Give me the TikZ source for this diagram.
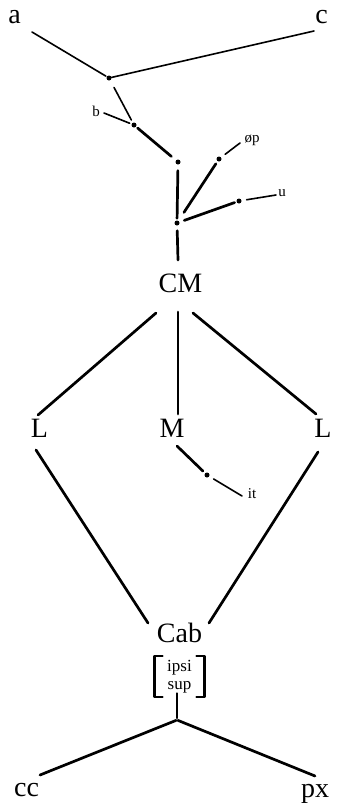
\documentclass[tikz,border=0pt]{standalone}
\usepackage{fontspec}
\setmainfont{Liberation Serif}
\begin{document}
\begin{tikzpicture}[x=1pt,y=-1pt, line join=round, line cap=round,
    big/.style={inner sep=0pt,font=\fontsize{28}{30}\selectfont},
    small/.style={inner sep=0pt,font=\fontsize{15}{17}\selectfont},
    dot/.style={circle,fill=black,inner sep=0pt,minimum size=5pt},
    twig/.style={line width=1.6pt},
    limb/.style={line width=2.7pt}]
    \useasboundingbox (0,0) rectangle (337,811);
    % labels
    \node[big] (a) at (14.5,17) {a};
    \node[big] (c) at (321.5,17) {c};
    \node[small] (b) at (96,111.5) {b};
    \node[small] (op) at (252,140) {øp};
    \node[small] (u) at (282,193) {u};
    \node[big] (cm) at (180.5,283.5) {CM};
    \node[big] (lL) at (39.5,428.5) {L};
    \node[big] (mM) at (172,428.5) {M};
    \node[big] (lR) at (323,428.5) {L};
    \node[small] (it) at (252,494) {it};
    \node[big] (cab) at (179.5,633) {Cab};
    \node[inner sep=0pt,align=center,font=\fontsize{17}{18}\selectfont] (feat) at (179.5,676.5) {ipsi\\sup};
    \node[big] (cc) at (26.5,790) {cc};
    \node[big] (px) at (315,794) {px};
    % dots
    \node[dot] (n1) at (109,78) {};
    \node[dot] (n2) at (134,125) {};
    \node[dot] (n3) at (178,162) {};
    \node[dot] (n4) at (177,223) {};
    \node[dot] (n5) at (219,159) {};
    \node[dot] (n6) at (239,201) {};
    \node[dot] (n7) at (207,475) {};
    \coordinate (j) at (177,720);
    % brackets
    \draw[line width=2.2pt] ([shift={(-17,-20.5)}]feat.center) -- ++(-8,0) -- ++(0,41) -- ++(8,0);
    \draw[line width=2.2pt] ([shift={(17,-20.5)}]feat.center) -- ++(8,0) -- ++(0,41) -- ++(-8,0);
    % top of the tree
    \draw[twig,shorten >=1pt] ([shift={(17.5,15)}]a.center) -- (n1);
    \draw[twig] (n1) -- ([shift={(-7.5,14)}]c.center);
    \draw[twig,shorten <=8pt,shorten >=3pt] (n1) -- (n2);
    \draw[twig,shorten >=2pt] ([shift={(8,1.5)}]b.center) -- (n2);
    \draw[limb,shorten <=2pt,shorten >=6pt] (n2) -- (n3);
    \draw[limb,shorten <=6pt,shorten >=2pt] (n3) -- (n4);
    \draw[limb,shorten <=10pt,shorten >=3pt] (n4) -- (n5);
    \draw[twig,shorten <=5pt] (n5) -- ([shift={(-12,3)}]op.center);
    \draw[limb,shorten <=5pt,shorten >=2pt] (n4) -- (n6);
    \draw[twig,shorten <=5pt] (n6) -- ([shift={(-6,2)}]u.center);
    \draw[limb,shorten <=5pt] (n4) -- ([shift={(-2.5,-23.5)}]cm.center);
    % middle
    \draw[limb] ([shift={(-24.5,29.5)}]cm.center) -- ([shift={(-1.5,-13.5)}]lL.center);
    \draw[limb] ([shift={(-2.5,28.5)}]cm.center) -- ([shift={(6,-14.5)}]mM.center);
    \draw[limb] ([shift={(12.5,29.5)}]cm.center) -- ([shift={(-7,-14.5)}]lR.center);
    \draw[limb,shorten >=3pt] ([shift={(5,17.5)}]mM.center) -- (n7);
    \draw[twig,shorten <=5pt] (n7) -- ([shift={(-10,2)}]it.center);
    \draw[limb] ([shift={(-3.5,21.5)}]lL.center) -- ([shift={(-31.5,-10)}]cab.center);
    \draw[limb] ([shift={(-5,23.5)}]lR.center) -- ([shift={(29.5,-10)}]cab.center);
    % bottom
    \draw[limb,shorten >=2pt] ([shift={(-2.5,17)}]feat.center) -- (j);
    \draw[limb,shorten <=1pt] (j) -- ([shift={(13.5,-15)}]cc.center);
    \draw[limb,shorten <=1pt] (j) -- ([shift={(0,-18)}]px.center);
\end{tikzpicture}
\end{document}
